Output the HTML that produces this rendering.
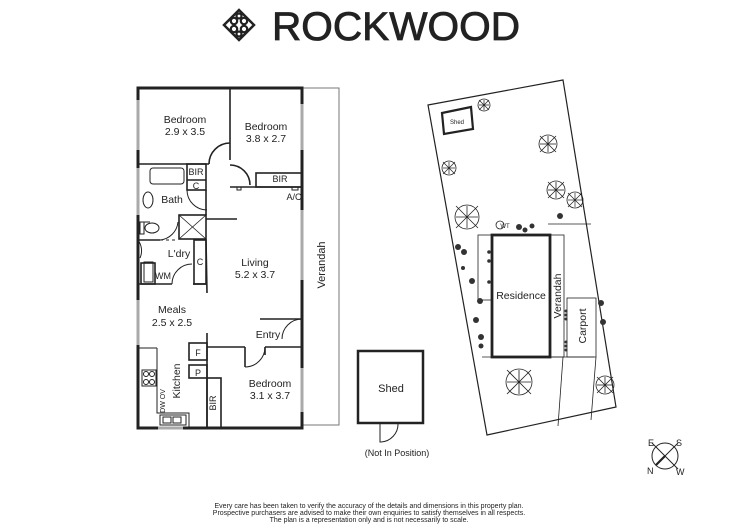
<!DOCTYPE html>
<html><head><meta charset="utf-8"><style>
html,body{margin:0;padding:0;background:#fff;width:750px;height:530px;overflow:hidden}
svg{display:block;font-family:"Liberation Sans",Arial,sans-serif}
</style></head><body>
<svg width="750" height="530" viewBox="0 0 750 530" xmlns="http://www.w3.org/2000/svg">
<defs>
<g id="tr"><line x1="-1" y1="-1" x2="1" y2="1"/><line x1="1" y1="-1" x2="-1" y2="1"/><line x1="0" y1="-1" x2="0" y2="1"/><line x1="-1" y1="0" x2="1" y2="0"/></g>
</defs>
<!-- Logo -->
<g fill="none" stroke="#222" stroke-width="2.2">
<polygon points="239,10 254,25 239,40 224,25" stroke-width="2.5"/>
<circle cx="234" cy="21" r="3.2"/><circle cx="244" cy="21" r="3.2"/>
<circle cx="234" cy="29" r="3.2"/><circle cx="244" cy="29" r="3.2"/>
<circle cx="239" cy="16" r="2.5"/><circle cx="239" cy="34" r="2.5"/>
</g>
<text x="272" y="40" font-size="40" fill="#222" stroke="#222" stroke-width="0.8" textLength="248" lengthAdjust="spacingAndGlyphs">ROCKWOOD</text>

<!-- Verandah strip -->
<rect x="302" y="88" width="37" height="337" fill="none" stroke="#777" stroke-width="1"/>
<text transform="translate(325,265) rotate(-90)" font-size="11" text-anchor="middle" fill="#222">Verandah</text>

<!-- Floor plan outer -->
<g stroke="#222" fill="none">
<rect x="138" y="88" width="164" height="340" stroke-width="3"/>
<g stroke="#aaa" stroke-width="3">
<line x1="138" y1="100" x2="138" y2="150"/><line x1="138" y1="168" x2="138" y2="215"/>
<line x1="138" y1="300" x2="138" y2="345"/><line x1="302" y1="104" x2="302" y2="150"/>
<line x1="302" y1="210" x2="302" y2="280"/><line x1="302" y1="368" x2="302" y2="412"/>
<line x1="158" y1="428" x2="183" y2="428"/>
</g>
<g stroke-width="1.6">
<line x1="230" y1="88" x2="230" y2="160"/>
<line x1="138" y1="164" x2="209" y2="164"/>
<path d="M209,164 A21,21 0 0 1 230,143"/>
<path d="M230,165 A20,20 0 0 1 250,185"/>
<line x1="230" y1="187" x2="302" y2="187"/>
<rect x="256" y="173" width="46" height="14"/>
<rect x="187" y="164" width="19" height="26"/><line x1="187" y1="180" x2="206" y2="180"/>
<rect x="179" y="215" width="27" height="24"/>
<line x1="179" y1="215" x2="206" y2="239" stroke-width="0.8"/><line x1="206" y1="215" x2="179" y2="239" stroke-width="0.8"/>
<line x1="206" y1="219" x2="237" y2="219"/>
<line x1="206" y1="190" x2="206" y2="215"/>
<path d="M187,190 A20,20 0 0 0 207,210" stroke-width="1"/>
<line x1="138" y1="240" x2="160" y2="240"/>
<line x1="160" y1="240" x2="178" y2="240" stroke-dasharray="3,3" stroke-width="1"/>
<path d="M138,240 A18,18 0 0 1 140,258" stroke-width="1"/>
<path d="M160,240 A20,20 0 0 0 178,222" stroke-width="1"/>
<line x1="138" y1="222" x2="150" y2="222" stroke-width="1"/>
<rect x="194" y="240" width="12" height="44"/>
<line x1="206" y1="240" x2="207" y2="293"/>
<rect x="141" y="263" width="14" height="21"/>
<line x1="138" y1="284" x2="172" y2="284"/><line x1="193" y1="284" x2="206" y2="284"/>
<path d="M172,284 A20,20 0 0 1 192,264" stroke-width="1"/>
<line x1="260" y1="319" x2="302" y2="319"/>
<path d="M282,339 A20,20 0 0 1 302,319" stroke-width="1"/>
<line x1="207" y1="333" x2="207" y2="428"/>
<line x1="207" y1="347" x2="245" y2="347"/><line x1="245" y1="347" x2="245" y2="367"/>
<line x1="265" y1="347" x2="302" y2="347"/><line x1="265" y1="347" x2="265" y2="355"/>
<path d="M245,367 A20,20 0 0 0 265,347" stroke-width="1"/>
<rect x="189" y="343" width="18" height="17"/><rect x="189" y="365" width="18" height="13"/>
<rect x="207" y="378" width="14" height="50"/>
<line x1="138" y1="348" x2="157" y2="348" stroke-width="1"/>
<polyline points="157,348 157,413 189,413 189,428" stroke-width="1"/>
</g>
<g stroke-width="1">
<rect x="150" y="168" width="34" height="16" rx="3"/>
<ellipse cx="148" cy="200" rx="5" ry="8"/>
<rect x="140" y="222" width="4" height="12"/><ellipse cx="152" cy="228" rx="7" ry="5"/>
<rect x="144" y="262" width="9" height="20"/>
<rect x="142" y="370" width="14" height="16"/>
<circle cx="146" cy="374" r="2.5"/><circle cx="152" cy="374" r="2.5"/><circle cx="146" cy="382" r="2.5"/><circle cx="152" cy="382" r="2.5"/>
<rect x="160" y="415" width="26" height="10"/>
<rect x="163" y="417" width="8" height="6"/><rect x="173" y="417" width="8" height="6"/>
<rect x="237" y="187" width="4" height="3"/>
<rect x="292" y="187" width="6" height="3"/>
</g>
</g>
<g font-size="10.5" fill="#222" text-anchor="middle">
<text x="185" y="123">Bedroom</text><text x="185" y="135">2.9 x 3.5</text>
<text x="266" y="130">Bedroom</text><text x="266" y="142">3.8 x 2.7</text>
<text x="280" y="182" font-size="9">BIR</text>
<text x="196" y="175" font-size="9">BIR</text><text x="196" y="189" font-size="9">C</text>
<text x="172" y="203">Bath</text>
<text x="294" y="200" font-size="9">A/C</text>
<text x="179" y="257">L'dry</text>
<text x="200" y="265" font-size="9">C</text>
<text x="163" y="279" font-size="9">WM</text>
<text x="255" y="266">Living</text><text x="255" y="278">5.2 x 3.7</text>
<text x="172" y="313">Meals</text><text x="172" y="326">2.5 x 2.5</text>
<text x="268" y="338">Entry</text>
<text x="198" y="356" font-size="9">F</text><text x="198" y="376" font-size="9">P</text>
<text x="270" y="387">Bedroom</text><text x="270" y="399">3.1 x 3.7</text>
<text transform="translate(180,381) rotate(-90)">Kitchen</text>
<text transform="translate(216,403) rotate(-90)" font-size="9">BIR</text>
<text transform="translate(165,401) rotate(-90)" font-size="7">DW OV</text>
</g>

<!-- Standalone shed -->
<g stroke="#222" fill="none">
<rect x="358" y="351" width="65" height="72" stroke-width="2.5"/>
<path d="M380,423 L380,442 A18,18 0 0 0 398,423" stroke-width="1"/>
</g>
<text x="391" y="392" font-size="11" text-anchor="middle" fill="#222">Shed</text>
<text x="397" y="456" font-size="9" text-anchor="middle" fill="#222">(Not In Position)</text>

<!-- Site plan -->
<g stroke="#222" fill="none">
<polygon points="428,105 563,80 616,407 487,435" stroke-width="1.2"/>
<polygon points="442,113 471,107 473,129 444,134" stroke-width="2.2"/>
<rect x="478" y="235" width="14" height="65" stroke-width="0.8"/>
<rect x="550" y="235" width="14" height="122" stroke-width="0.8"/>
<rect x="567" y="298" width="29" height="59" stroke-width="0.8"/>
<line x1="482" y1="357" x2="594" y2="357" stroke-width="0.8"/>
<line x1="563" y1="357" x2="558" y2="426" stroke-width="0.8"/>
<line x1="596" y1="357" x2="591" y2="420" stroke-width="0.8"/>
<polyline points="548,224 591,224" stroke-width="0.8"/>
<rect x="492" y="235" width="58" height="122" stroke-width="2.8"/>
<g stroke-width="0.8">
<circle cx="484" cy="105" r="6"/><use href="#tr" transform="translate(484,105) scale(5)" stroke-width="0.15"/>
<circle cx="548" cy="144" r="9"/><use href="#tr" transform="translate(548,144) scale(8)" stroke-width="0.1"/>
<circle cx="449" cy="168" r="7"/><use href="#tr" transform="translate(449,168) scale(6)" stroke-width="0.12"/>
<circle cx="556" cy="190" r="9"/><use href="#tr" transform="translate(556,190) scale(8)" stroke-width="0.1"/>
<circle cx="575" cy="200" r="8"/><use href="#tr" transform="translate(575,200) scale(7)" stroke-width="0.1"/>
<circle cx="467" cy="217" r="12"/><use href="#tr" transform="translate(467,217) scale(11)" stroke-width="0.07"/>
<circle cx="519" cy="382" r="13"/><use href="#tr" transform="translate(519,382) scale(12)" stroke-width="0.07"/>
<circle cx="605" cy="385" r="9"/><use href="#tr" transform="translate(605,385) scale(8)" stroke-width="0.1"/>
<circle cx="500" cy="225" r="4"/>
</g>
<g fill="#333" stroke="none">
<circle cx="458" cy="247" r="3"/><circle cx="464" cy="252" r="3"/><circle cx="472" cy="281" r="3"/>
<circle cx="480" cy="301" r="3"/><circle cx="476" cy="320" r="3"/><circle cx="481" cy="337" r="3"/>
<circle cx="481" cy="346" r="2.5"/><circle cx="463" cy="268" r="2"/>
<circle cx="560" cy="216" r="3"/><circle cx="519" cy="227" r="3"/><circle cx="525" cy="230" r="2.5"/>
<circle cx="532" cy="226" r="2.5"/><circle cx="601" cy="303" r="3"/><circle cx="603" cy="322" r="3"/>
<circle cx="489" cy="252" r="1.8"/><circle cx="489" cy="261" r="1.8"/><circle cx="489" cy="282" r="1.8"/>
<circle cx="566" cy="311" r="1.5"/><circle cx="566" cy="315" r="1.5"/><circle cx="566" cy="319" r="1.5"/>
<circle cx="566" cy="342" r="1.5"/><circle cx="566" cy="346" r="1.5"/><circle cx="566" cy="350" r="1.5"/>
</g>
</g>
<g fill="#222" text-anchor="middle">
<text x="457" y="124" font-size="6">Shed</text>
<text x="505" y="228" font-size="6">WT</text>
<text x="521" y="299" font-size="10.5">Residence</text>
<text transform="translate(561,296) rotate(-90)" font-size="10.5">Verandah</text>
<text transform="translate(586,326) rotate(-90)" font-size="10.5">Carport</text>
</g>

<!-- Compass -->
<g stroke="#222" fill="none">
<circle cx="665" cy="456" r="13" stroke-width="1"/>
<line x1="652" y1="443" x2="678" y2="469" stroke-width="1"/>
<line x1="678" y1="443" x2="665" y2="456" stroke-width="1"/>
<line x1="665" y1="456" x2="656" y2="465" stroke-width="2.2"/>
</g>
<g font-size="9" fill="#222">
<text x="648" y="446">E</text><text x="676" y="446">S</text>
<text x="647" y="474">N</text><text x="676" y="475">W</text>
</g>

<!-- Footer -->
<g font-size="7" fill="#222" text-anchor="middle">
<text x="369" y="508">Every care has been taken to verify the accuracy of the details and dimensions in this property plan.</text>
<text x="369" y="515">Prospective purchasers are advised to make their own enquiries to satisfy themselves in all respects.</text>
<text x="369" y="522">The plan is a representation only and is not necessarily to scale.</text>
</g>
</svg>
</body></html>
